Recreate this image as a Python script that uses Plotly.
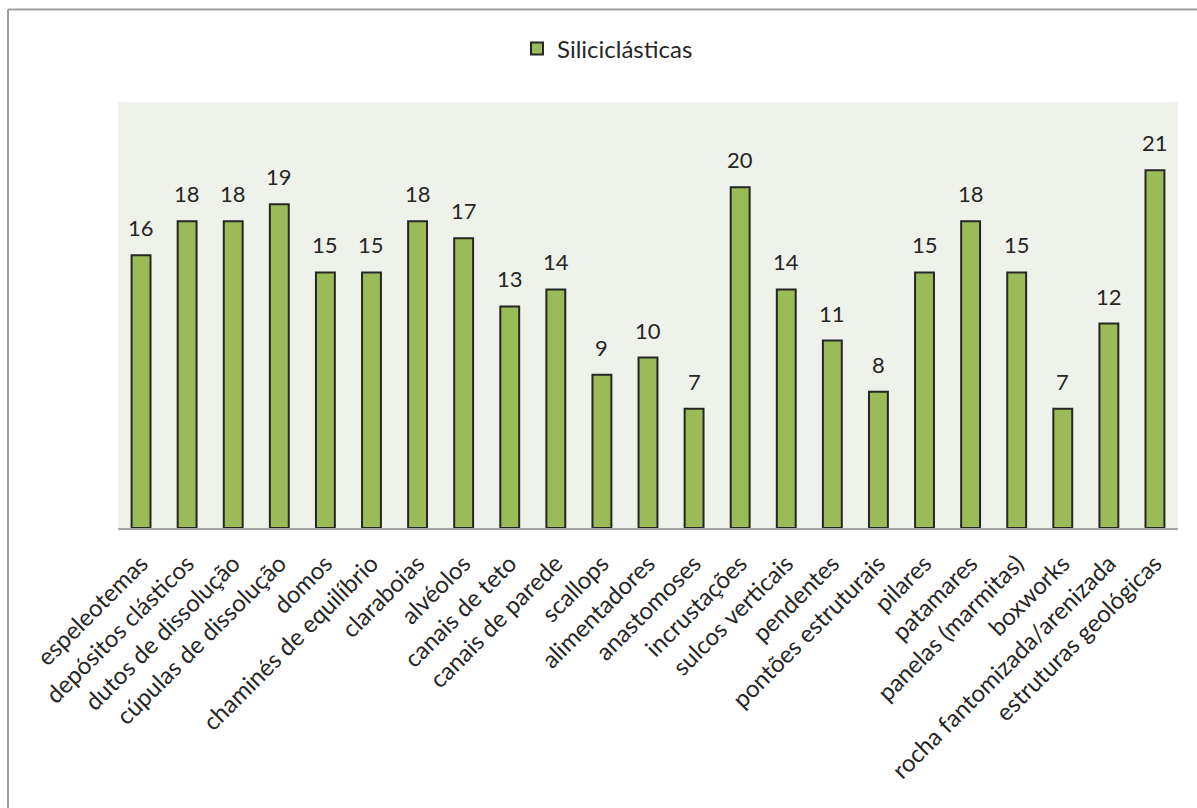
import plotly.graph_objects as go

categories = [
    "espeleotemas", "depósitos clásticos", "dutos de dissolução", "cúpulas de dissolução",
    "domos", "chaminés de equilíbrio", "claraboias", "alvéolos", "canais de teto",
    "canais de parede", "scallops", "alimentadores", "anastomoses", "incrustações",
    "sulcos verticais", "pendentes", "pontões estruturais", "pilares", "patamares",
    "panelas (marmitas)", "boxworks", "rocha fantomizada/arenizada", "estruturas geológicas",
]
values = [16, 18, 18, 19, 15, 15, 18, 17, 13, 14, 9, 10, 7, 20, 14, 11, 8, 15, 18, 15, 7, 12, 21]
series_name = "Siliciclásticas"

FONT = "Lato, 'Open Sans', sans-serif"
TEXT = "#262626"

# plot-area geometry in pixels (for the outer frame lines)
W, H = 1197, 808
ML, MR, MT, MB = 118, 19, 102, 280
pw, ph = W - ML - MR, H - MT - MB

def px_x(x):
    return (x - ML) / pw

def px_y(y):
    return (H - MB - y) / ph

fig = go.Figure()
fig.add_trace(go.Bar(
    x=categories,
    y=values,
    name=series_name,
    marker=dict(color="#9BBB59", line=dict(color="#262626", width=2)),
    width=0.41,
))

# value labels above each bar
for c, v in zip(categories, values):
    fig.add_annotation(
        x=c, y=v, text=str(v), showarrow=False,
        xanchor="center", yanchor="bottom", yshift=12,
        font=dict(family=FONT, size=22, color=TEXT),
    )

fig.update_layout(
    width=W, height=H,
    margin=dict(l=ML, r=MR, t=MT, b=MB),
    paper_bgcolor="white",
    plot_bgcolor="#EFF2EA",
    showlegend=True,
    legend=dict(
        orientation="h", x=px_x(517), xanchor="left", y=px_y(49), yanchor="middle",
        font=dict(family=FONT, size=24, color=TEXT),
        itemwidth=30,
    ),
    xaxis=dict(
        tickangle=-45,
        tickfont=dict(family=FONT, size=24, color=TEXT),
        ticklabelstandoff=10,
        showline=True, linecolor="#A6A6A6", linewidth=2,
        ticks="", showgrid=False,
    ),
    yaxis=dict(range=[0, 25], visible=False, showgrid=False),
    bargap=0.59,
    shapes=[
        dict(type="line", xref="paper", yref="paper",
             x0=px_x(8), x1=px_x(W), y0=px_y(9.5), y1=px_y(9.5),
             line=dict(color="#A0A0A0", width=2)),
        dict(type="line", xref="paper", yref="paper",
             x0=px_x(8), x1=px_x(8), y0=px_y(9.5), y1=px_y(H),
             line=dict(color="#A0A0A0", width=2)),
    ],
)

fig.write_html("out.html")
